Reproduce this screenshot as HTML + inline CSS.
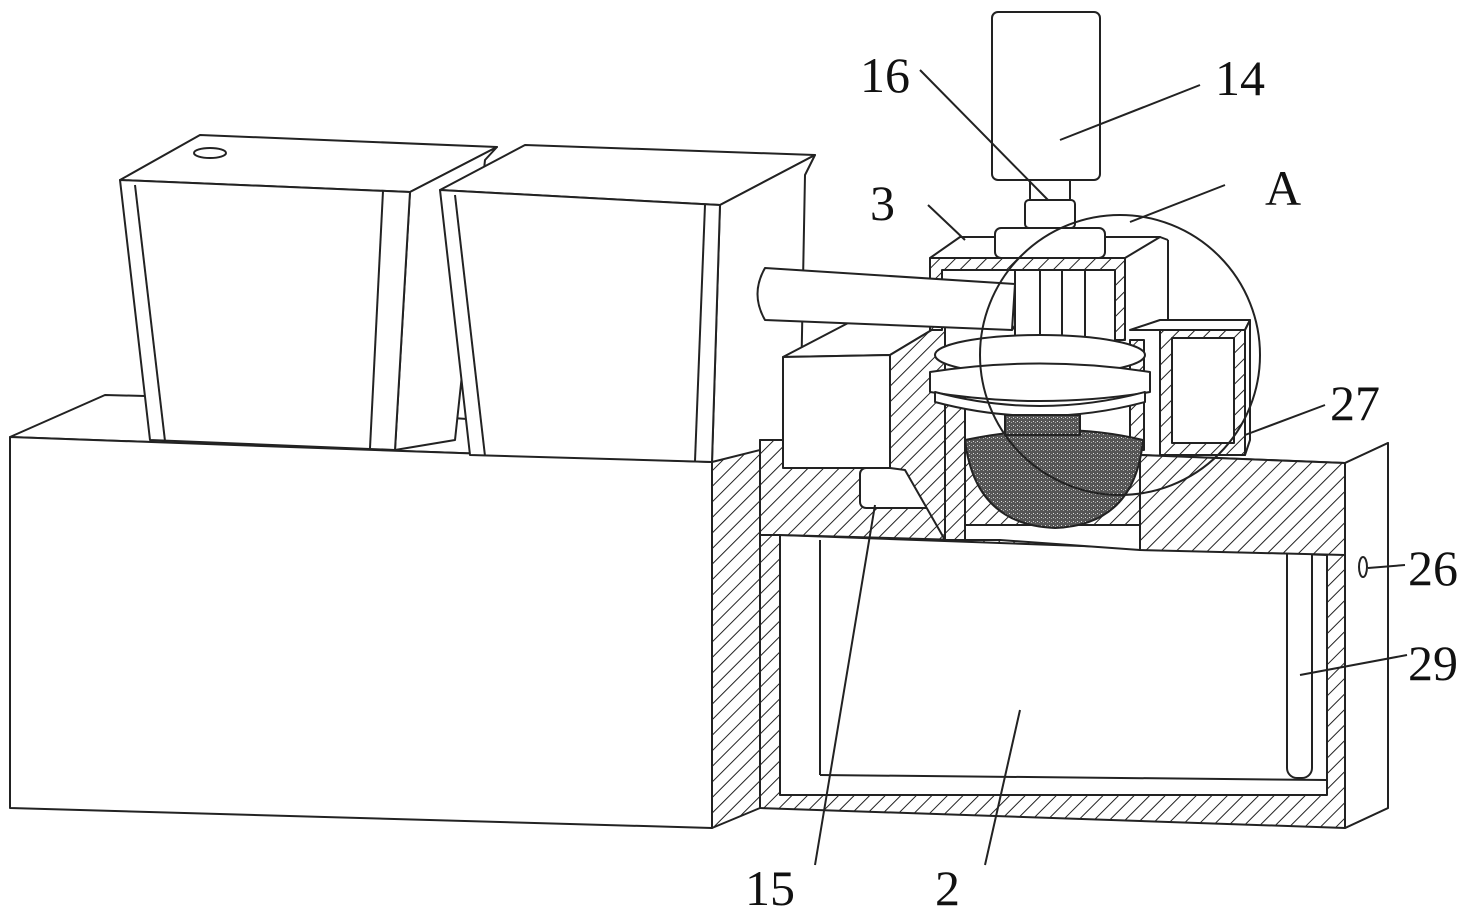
<!DOCTYPE html>
<html><head><style>
html,body{margin:0;padding:0;background:#fff;}
svg{display:block}
text{font-family:"Liberation Serif",serif;font-size:50px;fill:#111}
</style></head><body>
<svg width="1476" height="919" viewBox="0 0 1476 919" xmlns="http://www.w3.org/2000/svg">
<defs>
<pattern id="h" width="11" height="11" patternUnits="userSpaceOnUse" patternTransform="rotate(45)">
<rect width="11" height="11" fill="#fff"/><line x1="0" y1="0" x2="0" y2="11" stroke="#222" stroke-width="2"/>
</pattern>
<pattern id="d" width="4" height="4" patternUnits="userSpaceOnUse">
<rect width="4" height="4" fill="#555"/><rect x="1" y="1" width="1" height="1" fill="#ddd"/><rect x="3" y="2" width="1" height="1" fill="#aaa"/>
</pattern>
</defs>
<g fill="#fff" stroke="#222" stroke-width="2" stroke-linejoin="round">
<polygon points="10,437 105,395 145,396 760,440 712,462"/>
<polygon points="10,437 712,462 712,828 10,808"/>
<polygon points="712,462 760,440 760,808 712,828" fill="url(#h)"/>
<polygon points="120,180 200,135 497,147 410,192"/>
<polygon points="410,192 497,147 485,160 455,440 395,450"/>
<polygon points="120,180 410,192 395,450 150,440"/>
<line x1="135" y1="185" x2="165" y2="441"/>
<line x1="383" y1="191" x2="370" y2="448"/>
<ellipse cx="210" cy="153" rx="16" ry="5"/>
<polygon points="440,190 525,145 815,155 720,205"/>
<polygon points="720,205 815,155 805,175 800,440 712,462"/>
<polygon points="440,190 720,205 712,462 470,455"/>
<line x1="455" y1="195" x2="485" y2="456"/>
<line x1="705" y1="205" x2="695" y2="461"/>
<polygon points="760,440 1345,463 1388,443 1388,808 1345,828 760,808" fill="url(#h)"/>
<polygon points="1345,463 1388,443 1388,808 1345,828"/>
<polygon points="780,535 1327,555 1327,795 780,795"/>
<line x1="820" y1="540" x2="820" y2="775"/>
<line x1="820" y1="775" x2="1327" y2="780"/>
<rect x="1287" y="463" width="25" height="315" rx="10"/>
<ellipse cx="1363" cy="567" rx="4" ry="10"/>
<polygon points="760,440 960,440 960,540 780,535 760,535" fill="url(#h)"/>
<polygon points="1140,455 1345,463 1345,555 1140,550" fill="url(#h)"/>
<polygon points="960,525 1140,525 1140,550 1000,540 960,540"/>
<polygon points="783,357 850,322 945,322 890,355"/>
<polygon points="783,357 890,355 890,468 783,468"/>
<rect x="860" y="468" width="80" height="40" rx="6"/>
<polygon points="890,355 945,322 945,540 905,470 890,468" fill="url(#h)"/>
<polygon points="930,258 1125,258 1125,340 1115,340 1115,270 942,270 942,330 930,330" fill="url(#h)"/>
<polygon points="930,258 960,237 1160,237 1125,258"/>
<line x1="1160" y1="237" x2="1168" y2="240"/><line x1="1168" y1="240" x2="1168" y2="320"/>
<path d="M765,268 L1015,284 L1012,330 L765,320 Q750,294 765,268 Z"/>
<path d="M1015,284 Q1030,306 1012,330" fill="none"/>
<rect x="945" y="350" width="20" height="190" fill="url(#h)"/>
<rect x="1130" y="340" width="14" height="110" fill="url(#h)"/>
<rect x="992" y="12" width="108" height="168" rx="6"/>
<rect x="1030" y="180" width="40" height="20"/>
<rect x="1025" y="200" width="50" height="28" rx="4"/>
<rect x="995" y="228" width="110" height="30" rx="6"/>
<rect x="1015" y="270" width="70" height="90"/>
<line x1="1040" y1="270" x2="1040" y2="360"/>
<line x1="1062" y1="270" x2="1062" y2="360"/>
<ellipse cx="1040" cy="355" rx="105" ry="20"/>
<path d="M930,372 Q1040,355 1150,372 L1150,392 Q1040,410 930,392 Z"/>
<path d="M935,392 Q1040,420 1145,392 L1145,402 Q1040,430 935,402 Z"/>
<path d="M965,440 Q1060,420 1143,440 Q1135,525 1055,528 Q975,525 965,440 Z" fill="url(#d)"/>
<rect x="1005" y="415" width="75" height="20" fill="url(#d)"/>
<polygon points="1130,330 1160,320 1250,320 1245,330"/>
<rect x="1160" y="330" width="85" height="125" fill="url(#h)"/>
<rect x="1172" y="338" width="62" height="105"/>
<polygon points="1245,330 1250,320 1250,440 1245,455"/>
</g>
<circle cx="1120" cy="355" r="140" fill="none" stroke="#222" stroke-width="2"/>
<g stroke="#222" stroke-width="2">
<line x1="920" y1="70" x2="1048" y2="200"/>
<line x1="1200" y1="85" x2="1060" y2="140"/>
<line x1="928" y1="205" x2="965" y2="240"/>
<line x1="1225" y1="185" x2="1130" y2="222"/>
<line x1="1325" y1="405" x2="1245" y2="435"/>
<line x1="1405" y1="565" x2="1368" y2="568"/>
<line x1="1407" y1="655" x2="1300" y2="675"/>
<line x1="815" y1="865" x2="875" y2="505"/>
<line x1="985" y1="865" x2="1020" y2="710"/>
</g>
<text x="860" y="92">16</text>
<text x="1215" y="95">14</text>
<text x="870" y="220">3</text>
<text x="1265" y="205">A</text>
<text x="1330" y="420">27</text>
<text x="1408" y="585">26</text>
<text x="1408" y="680">29</text>
<text x="745" y="905">15</text>
<text x="935" y="905">2</text>
</svg>
</body></html>
